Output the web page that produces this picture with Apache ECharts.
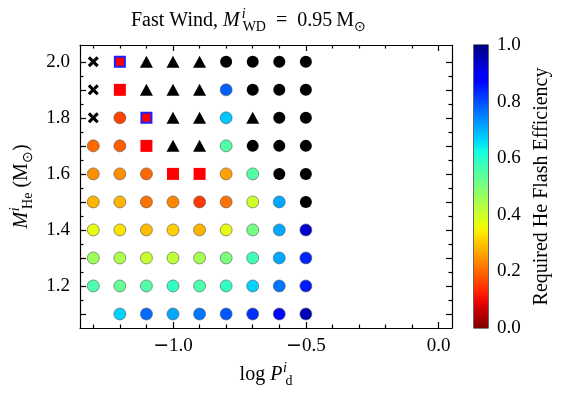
<!DOCTYPE html>
<html>
<head>
<meta charset="utf-8">
<script src="https://cdn.jsdelivr.net/npm/echarts@6/dist/echarts.min.js"></script>
<style>
html, body { margin: 0; padding: 0; background: #fff; }
#chart { width: 566px; height: 402px; }
</style>
</head>
<body>
<div id="chart"></div>
<script>
// columns (log P_d) and rows (M_He)
const logP = [-1.3, -1.2, -1.1, -1.0, -0.9, -0.8, -0.7, -0.6, -0.5];
const mHe = [2.0, 1.9, 1.8, 1.7, 1.6, 1.5, 1.4, 1.3, 1.2, 1.1];
// number = required flash efficiency, x = cross, s = red square,
// b = red square w/ blue edge, t = triangle, k = black circle
const effRows = [
  ['x', 'b', 't', 't', 't', 'k', 'k', 'k', 'k'],
  ['x', 's', 't', 't', 't', 0.78, 'k', 'k', 'k'],
  ['x', 0.16, 'b', 't', 't', 0.68, 't', 'k', 'k'],
  [0.20, 0.19, 's', 't', 't', 0.55, 'k', 'k', 'k'],
  [0.24, 0.24, 0.20, 's', 's', 0.26, 0.55, 'k', 'k'],
  [0.28, 0.28, 0.21, 0.23, 0.15, 0.21, 0.40, 0.71, 'k'],
  [0.37, 0.33, 0.29, 0.31, 0.28, 0.37, 0.51, 0.71, 0.93],
  [0.46, 0.44, 0.41, 0.42, 0.45, 0.50, 0.57, 0.71, 0.84],
  [0.56, 0.53, 0.55, 0.59, 0.56, 0.59, 0.67, 0.76, 0.85],
  [null, 0.67, 0.77, 0.71, 0.76, 0.79, 0.83, 0.87, 0.95]
];
const xLabelTicks = [-1.0, -0.5, 0.0];
const xMinorTicks = [-1.3, -1.2, -1.1, -0.9, -0.8, -0.7, -0.6, -0.4, -0.3, -0.2, -0.1];
const yLabelTicks = [1.2, 1.4, 1.6, 1.8, 2.0];
const yMajorTicks = [1.1, 1.2, 1.3, 1.4, 1.5, 1.6, 1.7, 1.8, 1.9, 2.0];
const yMinorTicks = [1.15, 1.25, 1.35, 1.45, 1.55, 1.65, 1.75, 1.85, 1.95];

// matplotlib jet segments, used reversed (0 = dark red, 1 = dark blue)
const jetRed = [[0, 0], [0.35, 0], [0.66, 1], [0.89, 1], [1, 0.5]];
const jetGreen = [[0, 0], [0.125, 0], [0.375, 1], [0.64, 1], [0.91, 0], [1, 0]];
const jetBlue = [[0, 0.5], [0.11, 1], [0.34, 1], [0.65, 0], [1, 0]];
function seg(pts, t) {
  for (let i = 1; i < pts.length; i++) {
    if (t <= pts[i][0]) {
      const [t0, v0] = pts[i - 1], [t1, v1] = pts[i];
      return v0 + (v1 - v0) * (t - t0) / (t1 - t0);
    }
  }
  return pts[pts.length - 1][1];
}
function jetRev(e) {
  const t = 1 - e;
  const c = v => Math.round(v * 255);
  return 'rgb(' + c(seg(jetRed, t)) + ',' + c(seg(jetGreen, t)) + ',' + c(seg(jetBlue, t)) + ')';
}
const cmapColors = [];
const cmapStops = [];
for (let k = 0; k <= 40; k++) {
  cmapColors.push(jetRev(k / 40));
  cmapStops.push({ offset: k / 40, color: jetRev(1 - k / 40) });
}

const effPts = [], blackPts = [], triPts = [], crossPts = [], sqPts = [], bluSqPts = [];
effRows.forEach((row, i) => {
  row.forEach((v, j) => {
    const p = [logP[j], mHe[i]];
    if (v === null) return;
    if (typeof v === 'number') effPts.push([p[0], p[1], v]);
    else if (v === 'k') blackPts.push(p);
    else if (v === 't') triPts.push(p);
    else if (v === 'x') crossPts.push(p);
    else if (v === 's') sqPts.push(p);
    else if (v === 'b') bluSqPts.push(p);
  });
});

const FONT = 'Liberation Serif';
const TICK = 19;
const fmt = v => (v < 0 ? '{m|\u2212}' : '') + Math.abs(v).toFixed(1);
const tickRich = { m: { fontFamily: 'DejaVu Sans', fontSize: TICK, color: '#000' } };
const lineSt = { color: '#000', width: 1.2 };
const rich = {
  it: { fontFamily: FONT, fontSize: 20, fontStyle: 'italic', color: '#000' },
  sup: { fontFamily: FONT, fontSize: 14, fontStyle: 'italic', verticalAlign: 'top', color: '#000', width: 1, padding: [0, 0, 0, 2] },
  sub: { fontFamily: FONT, fontSize: 14, verticalAlign: 'bottom', color: '#000' }
};

let chart = echarts.init(document.getElementById('chart'));
let option = {
  animation: false,
  title: {
    text: 'Fast Wind, {it|M}{sup|i}{sub|WD}\u2002=\u20020.95\u2009M{sub|\u2299}',
    left: 126,
    top: 2,
    textStyle: { fontFamily: FONT, fontSize: 20, fontWeight: 'normal', color: '#000', lineHeight: 27, rich: rich }
  },
  grid: [
    { left: 80, top: 45, width: 372, height: 283 },
    { left: 474, top: 45, width: 14, height: 283, show: true, borderColor: '#000', borderWidth: 1.2, backgroundColor: 'transparent' }
  ],
  visualMap: {
    type: 'continuous', show: false, min: 0, max: 1, dimension: 2, seriesIndex: 0,
    inRange: { color: cmapColors }
  },
  xAxis: [
    {
      type: 'value', gridIndex: 0, position: 'bottom', min: -1.35, max: 0.05,
      axisLine: { onZero: false, lineStyle: lineSt },
      axisTick: { inside: true, length: 6, customValues: xLabelTicks, lineStyle: lineSt },
      axisLabel: { customValues: xLabelTicks, formatter: fmt, rich: tickRich, fontFamily: FONT, fontSize: TICK, color: '#000', margin: 9 },
      splitLine: { show: false },
      name: 'log {it|P}{sup|i}{sub|d}', nameLocation: 'middle', nameGap: 31,
      nameTextStyle: { fontFamily: FONT, fontSize: 20, color: '#000', lineHeight: 27, rich: rich }
    },
    {
      type: 'value', gridIndex: 0, position: 'bottom', min: -1.35, max: 0.05,
      axisLine: { show: false, onZero: false },
      axisTick: { inside: true, length: 3.5, customValues: xMinorTicks, lineStyle: lineSt },
      axisLabel: { show: false }, splitLine: { show: false }
    },
    {
      type: 'value', gridIndex: 0, position: 'top', min: -1.35, max: 0.05,
      axisLine: { onZero: false, lineStyle: lineSt },
      axisTick: { inside: true, length: 6, customValues: xLabelTicks, lineStyle: lineSt },
      axisLabel: { show: false }, splitLine: { show: false }
    },
    {
      type: 'value', gridIndex: 0, position: 'top', min: -1.35, max: 0.05,
      axisLine: { show: false, onZero: false },
      axisTick: { inside: true, length: 3.5, customValues: xMinorTicks, lineStyle: lineSt },
      axisLabel: { show: false }, splitLine: { show: false }
    },
    { type: 'category', gridIndex: 1, data: ['cbar'], show: false }
  ],
  yAxis: [
    {
      type: 'value', gridIndex: 0, position: 'left', min: 1.05, max: 2.06,
      axisLine: { onZero: false, lineStyle: lineSt },
      axisTick: { inside: true, length: 6, customValues: yMajorTicks, lineStyle: lineSt },
      axisLabel: { customValues: yLabelTicks, formatter: fmt, fontFamily: FONT, fontSize: TICK, color: '#000', margin: 10 },
      splitLine: { show: false },
      name: '{it|M}{sup|i}{sub|He} (M{sub|\u2299})', nameLocation: 'middle', nameGap: 41, nameRotate: 90,
      nameTextStyle: { fontFamily: FONT, fontSize: 20, color: '#000', lineHeight: 27, rich: rich }
    },
    {
      type: 'value', gridIndex: 0, position: 'left', min: 1.05, max: 2.06,
      axisLine: { show: false, onZero: false },
      axisTick: { inside: true, length: 3.5, customValues: yMinorTicks, lineStyle: lineSt },
      axisLabel: { show: false }, splitLine: { show: false }
    },
    {
      type: 'value', gridIndex: 0, position: 'right', min: 1.05, max: 2.06,
      axisLine: { onZero: false, lineStyle: lineSt },
      axisTick: { inside: true, length: 6, customValues: yMajorTicks, lineStyle: lineSt },
      axisLabel: { show: false }, splitLine: { show: false }
    },
    {
      type: 'value', gridIndex: 0, position: 'right', min: 1.05, max: 2.06,
      axisLine: { show: false, onZero: false },
      axisTick: { inside: true, length: 3.5, customValues: yMinorTicks, lineStyle: lineSt },
      axisLabel: { show: false }, splitLine: { show: false }
    },
    {
      type: 'value', gridIndex: 1, position: 'right', min: 0, max: 1, interval: 0.2,
      axisLine: { show: false },
      axisTick: { inside: true, length: 5, lineStyle: lineSt },
      minorTick: { show: true, splitNumber: 4, length: 3, lineStyle: lineSt },
      axisLabel: { formatter: v => v.toFixed(1), fontFamily: FONT, fontSize: TICK, color: '#000', margin: 9 },
      splitLine: { show: false },
      name: 'Required He Flash Efficiency', nameLocation: 'middle', nameGap: 44, nameRotate: 90,
      nameTextStyle: { fontFamily: FONT, fontSize: 20, color: '#000' }
    }
  ],
  series: [
    {
      name: 'efficiency', type: 'scatter', xAxisIndex: 0, yAxisIndex: 0, data: effPts,
      symbol: 'circle', symbolSize: 12,
      itemStyle: { borderColor: '#555', borderWidth: 0.6, opacity: 1 }
    },
    {
      name: 'black', type: 'scatter', xAxisIndex: 0, yAxisIndex: 0, data: blackPts,
      symbol: 'circle', symbolSize: 12, itemStyle: { color: '#000', opacity: 1 }
    },
    {
      name: 'triangle', type: 'scatter', xAxisIndex: 0, yAxisIndex: 0, data: triPts,
      symbol: 'triangle', symbolSize: [13, 12], itemStyle: { color: '#000', opacity: 1 }
    },
    {
      name: 'cross', type: 'scatter', xAxisIndex: 0, yAxisIndex: 0, data: crossPts,
      symbol: 'path://M2,0 L5,3 L8,0 L10,2 L7,5 L10,8 L8,10 L5,7 L2,10 L0,8 L3,5 L0,2 Z',
      symbolSize: 11, itemStyle: { color: '#000', opacity: 1 }
    },
    {
      name: 'square', type: 'scatter', xAxisIndex: 0, yAxisIndex: 0, data: sqPts,
      symbol: 'rect', symbolSize: 12, itemStyle: { color: '#ff0000', opacity: 1 }
    },
    {
      name: 'square blue edge', type: 'scatter', xAxisIndex: 0, yAxisIndex: 0, data: bluSqPts,
      symbol: 'rect', symbolSize: 10,
      itemStyle: { color: '#ff0000', borderColor: '#1f1fff', borderWidth: 2, opacity: 1 }
    },
    {
      name: 'colorbar', type: 'bar', xAxisIndex: 4, yAxisIndex: 4, data: [1],
      barWidth: '100%', silent: true,
      itemStyle: { color: new echarts.graphic.LinearGradient(0, 0, 0, 1, cmapStops) }
    }
  ]
};
chart.setOption(option);
</script>
</body>
</html>
